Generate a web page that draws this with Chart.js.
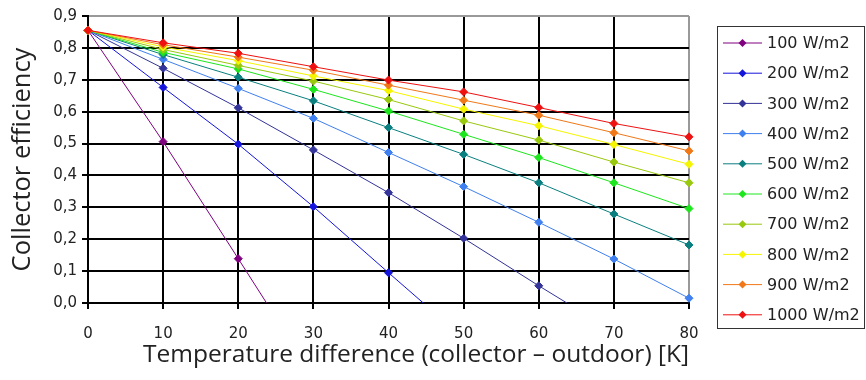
<!DOCTYPE html>
<html lang="en">
<head>
    <meta charset="UTF-8">
    <title>Collector efficiency</title>
    <script src="https://cdn.jsdelivr.net/npm/chart.js"></script>
    <style>
        body {
            margin: 0;
            padding: 0;
            background: #ffffff;
        }
        .chart-box {
            width: 866px;
            height: 380px;
            position: relative;
        }
    </style>
</head>
<body>
    <div class="chart-box">
        <canvas id="effChart" width="866" height="380"></canvas>
    </div>

    <script>
        // temperature difference (K)
        const tempDiff = [0, 10, 20, 30, 40, 50, 60, 70, 80];

        const seriesLabels = ['100 W/m2', '200 W/m2', '300 W/m2', '400 W/m2', '500 W/m2',
                              '600 W/m2', '700 W/m2', '800 W/m2', '900 W/m2', '1000 W/m2'];

        // efficiency per irradiance, last point of the steep ones is below the axis
        const eff100  = [0.855, 0.506, 0.139, -0.23];
        const eff200  = [0.855, 0.676, 0.498, 0.302, 0.095, -0.11];
        const eff300  = [0.855, 0.736, 0.612, 0.480, 0.346, 0.203, 0.054, -0.09];
        const eff400  = [0.855, 0.764, 0.673, 0.579, 0.472, 0.365, 0.253, 0.138, 0.015];
        const eff500  = [0.855, 0.779, 0.708, 0.634, 0.550, 0.466, 0.377, 0.279, 0.182];
        const eff600  = [0.855, 0.786, 0.734, 0.670, 0.602, 0.529, 0.456, 0.377, 0.296];
        const eff700  = [0.855, 0.795, 0.745, 0.696, 0.638, 0.571, 0.511, 0.442, 0.377];
        const eff800  = [0.855, 0.803, 0.760, 0.712, 0.666, 0.608, 0.556, 0.497, 0.435];
        const eff900  = [0.855, 0.810, 0.771, 0.730, 0.683, 0.636, 0.589, 0.534, 0.477];
        const eff1000 = [0.855, 0.816, 0.783, 0.741, 0.699, 0.662, 0.613, 0.563, 0.521];

        const yTicks = [0, 0.1, 0.2, 0.3, 0.4, 0.5, 0.6, 0.7, 0.8, 0.9];

        const allSeries = [eff100, eff200, eff300, eff400, eff500, eff600, eff700, eff800, eff900, eff1000];
        const colors = ['#800080', '#1414dc', '#333399', '#3f7fef', '#0a7f7f',
                        '#1ee61e', '#99c90e', '#f5f500', '#f07818', '#ee1111'];

        const datasets = allSeries.map((vals, i) => ({
            label: seriesLabels[i],
            data: vals.map((v, j) => ({ x: tempDiff[j], y: v })),
            borderColor: colors[i],
            backgroundColor: colors[i],
            borderWidth: 1,
            pointStyle: 'rectRot',
            pointRadius: 4,
            pointBorderWidth: 1,
            pointBorderColor: colors[i],
            pointBackgroundColor: colors[i],
            order: allSeries.length - i,
            clip: { left: 8, top: 8, right: 8, bottom: 0 }
        }));

        // legend box drawn by hand, line + diamond like the original
        const boxLegend = {
            id: 'boxLegend',
            afterDraw(chart) {
                const c = chart.ctx;
                c.save();
                c.strokeStyle = '#333';
                c.lineWidth = 1;
                c.strokeRect(717.5, 26.5, 147, 302);
                c.font = '16px "DejaVu Sans"';
                c.textBaseline = 'middle';
                c.fillStyle = '#222';
                seriesLabels.forEach((lab, i) => {
                    const y = 43 + i * 30.2;
                    c.strokeStyle = colors[i];
                    c.beginPath();
                    c.moveTo(723, y);
                    c.lineTo(762, y);
                    c.stroke();
                    c.fillStyle = colors[i];
                    c.beginPath();
                    c.moveTo(742.5, y - 4);
                    c.lineTo(746.5, y);
                    c.lineTo(742.5, y + 4);
                    c.lineTo(738.5, y);
                    c.closePath();
                    c.fill();
                    c.fillStyle = '#222';
                    c.fillText(lab, 767, y + 1);
                });
                c.restore();
            }
        };

        const whiteBg = {
            id: 'whiteBg',
            beforeDraw(chart) {
                const c = chart.ctx;
                c.save();
                c.fillStyle = '#fff';
                c.fillRect(0, 0, chart.width, chart.height);
                c.restore();
            }
        };

        const tickFont = { family: '"DejaVu Sans"', size: 15 };

        new Chart(document.getElementById('effChart'), {
            type: 'line',
            data: { datasets: datasets },
            options: {
                responsive: false,
                animation: false,
                layout: { padding: { left: 0, right: 177, top: 16, bottom: 0 } },
                plugins: {
                    legend: { display: false },
                    tooltip: { enabled: false }
                },
                scales: {
                    x: {
                        type: 'linear',
                        min: 0,
                        max: 80,
                        afterFit: s => { s.height = 77; },
                        ticks: {
                            stepSize: 10,
                            color: '#222',
                            font: tickFont,
                            padding: 16
                        },
                        grid: {
                            color: ctx => ctx.tick && ctx.tick.value === 80 ? '#999' : '#000',
                            lineWidth: 2,
                            tickLength: 6,
                            tickColor: '#000'
                        },
                        border: { color: '#000', width: 2 },
                        title: {
                            display: true,
                            text: 'Temperature difference (collector \u2013 outdoor) [K]',
                            align: 'end',
                            color: '#222',
                            font: { family: '"Open Sans"', size: 24.5 },
                            padding: { top: 0, bottom: 10 }
                        }
                    },
                    y: {
                        min: 0,
                        max: 0.9,
                        afterFit: s => { s.width = 88; },
                        afterBuildTicks: s => { s.ticks = yTicks.map(v => ({ value: v })); },
                        ticks: {
                            color: '#222',
                            font: tickFont,
                            padding: 5,
                            callback: v => v.toFixed(1).replace('.', ',')
                        },
                        grid: {
                            color: ctx => ctx.tick && Math.abs(ctx.tick.value - 0.9) < 1e-6 ? '#999' : '#000',
                            lineWidth: 2,
                            tickLength: 6,
                            tickColor: '#000'
                        },
                        border: { color: '#000', width: 2 },
                        title: {
                            display: true,
                            text: 'Collector efficiency',
                            color: '#222',
                            font: { family: '"Open Sans"', size: 25.5 },
                            padding: { top: 7, bottom: 0 }
                        }
                    }
                }
            },
            plugins: [whiteBg, boxLegend]
        });
    </script>
</body>
</html>
